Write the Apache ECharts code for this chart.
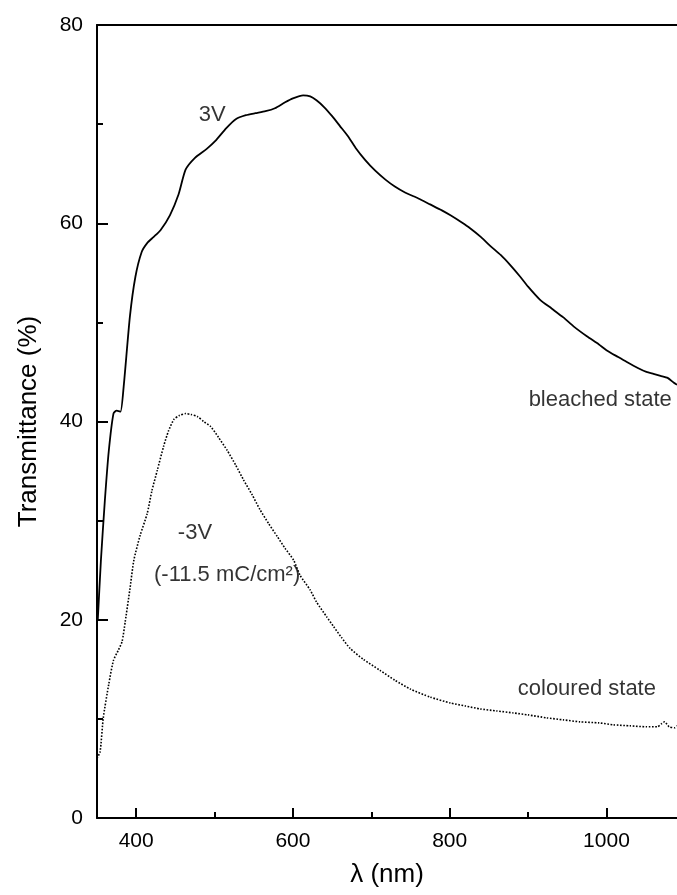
<!DOCTYPE html>
<html>
<head>
<meta charset="utf-8">
<script src="https://cdn.jsdelivr.net/npm/echarts@6/dist/echarts.min.js"></script>
<style>
  html, body { margin: 0; padding: 0; background: #fff; }
  #chart { width: 677px; height: 895px; }
</style>
</head>
<body>
<div id="chart"></div>
<script>
// bleached state (3V), solid line
const bleachedNm = [351, 355, 360, 365, 371, 375, 380, 384, 392, 399, 407, 414, 422, 431, 443, 454, 463, 475, 490, 501,
    515, 527, 540, 552, 565, 577, 590, 600, 613, 622, 630, 640, 650, 660, 670, 680, 692, 705, 718, 730,
    743, 760, 775, 790, 801, 815, 826, 840, 852, 865, 877, 890, 900, 915, 930, 945, 958, 975, 990, 1000,
    1015, 1026, 1040, 1051, 1060, 1069, 1078, 1086, 1090];
const bleachedT = [20, 26, 32, 37, 40.8, 41.1, 41.0, 43.5, 50.6, 54.6, 57.1, 58.0, 58.6, 59.3, 60.8, 62.9, 65.4, 66.6, 67.5, 68.3,
    69.6, 70.5, 70.9, 71.1, 71.3, 71.6, 72.2, 72.6, 72.9, 72.8, 72.4, 71.7, 70.8, 69.8, 68.8, 67.6, 66.4, 65.3, 64.4, 63.7,
    63.1, 62.5, 61.9, 61.3, 60.8, 60.1, 59.5, 58.6, 57.7, 56.8, 55.8, 54.6, 53.6, 52.3, 51.4, 50.5, 49.6, 48.6, 47.8, 47.2,
    46.5, 46.0, 45.4, 45.0, 44.8, 44.6, 44.4, 43.9, 43.7];

// coloured state (-3V), dotted line
const colouredNm = [350, 354, 358, 365, 371, 377, 382, 386, 392, 397, 405, 414, 420, 427, 435, 441, 448, 455, 463, 470,
    478, 486, 495, 505, 516, 527, 537, 548, 558, 569, 580, 590, 601, 609, 622, 630, 643, 652, 662, 673,
    690, 711, 730, 750, 775, 801, 820, 839, 860, 881, 900, 924, 945, 966, 990, 1009, 1030, 1051, 1065, 1070,
    1074, 1080, 1087, 1090];
const colouredT = [6.0, 6.7, 10.1, 13.5, 15.9, 16.9, 17.8, 19.8, 23.1, 26.0, 28.5, 30.7, 33.0, 35.1, 37.5, 39.0, 40.2, 40.6, 40.8, 40.7,
    40.5, 40.0, 39.5, 38.4, 37.1, 35.6, 34.1, 32.6, 31.1, 29.7, 28.4, 27.2, 26.0, 24.5, 23.0, 21.8, 20.3, 19.3, 18.2, 17.1,
    16.0, 14.9, 13.9, 13.0, 12.2, 11.6, 11.3, 11.0, 10.8, 10.6, 10.4, 10.1, 9.9, 9.7, 9.6, 9.4, 9.3, 9.2, 9.2, 9.5,
    9.7, 9.2, 9.1, 9.3];

// tick labels
const xMajorTicks = [400, 600, 800, 1000];
const xMinorTicks = [500, 700, 900];

// text notes placed in data units
const noteTexts = ['3V', 'bleached state', '-3V', '(-11.5 mC/cm²)', 'coloured state'];
const notePos = [[497, 70.9], [992, 42.2], [475, 28.8], [516, 24.5], [975, 13.0]];

const FONT = 'Liberation Sans, Arial, Helvetica, sans-serif';

function zip(xs, ys) {
    return xs.map((x, i) => [x, ys[i]]);
}

const chart = echarts.init(document.getElementById('chart'));

const option = {
    animation: false,
    backgroundColor: '#fff',
    textStyle: { fontFamily: FONT, color: '#000' },
    grid: { left: 97, right: 0, top: 25, bottom: 77, containLabel: false },
    xAxis: [
        {
            type: 'value', position: 'bottom', min: 350, max: 1090, interval: 50,
            name: 'λ (nm)', nameLocation: 'middle', nameGap: 44,
            nameTextStyle: { fontSize: 26, color: '#000', fontFamily: FONT },
            axisLine: { lineStyle: { color: '#000', width: 2 } },
            axisTick: { inside: true, length: 10, customValues: xMajorTicks, lineStyle: { color: '#000', width: 2 } },
            axisLabel: {
                customValues: xMajorTicks, fontSize: 21, color: '#000', margin: 13, fontFamily: FONT,
                formatter: v => String(v)
            },
            splitLine: { show: false }
        },
        {
            type: 'value', position: 'bottom', min: 350, max: 1090, interval: 50,
            axisLine: { show: false },
            axisTick: { inside: true, length: 6, customValues: xMinorTicks, lineStyle: { color: '#000', width: 2 } },
            axisLabel: { show: false },
            splitLine: { show: false }
        },
        {
            type: 'value', position: 'top', min: 350, max: 1090,
            axisLine: { lineStyle: { color: '#000', width: 2 } },
            axisTick: { show: false },
            axisLabel: { show: false },
            splitLine: { show: false }
        }
    ],
    yAxis: {
        type: 'value', min: 0, max: 80, interval: 20,
        name: 'Transmittance (%)', nameLocation: 'middle', nameGap: 55, nameRotate: 90,
        nameTextStyle: { fontSize: 26, color: '#000', fontFamily: FONT },
        axisLine: { show: true, lineStyle: { color: '#000', width: 2 } },
        axisTick: { show: true, inside: true, length: 11, lineStyle: { color: '#000', width: 2 } },
        minorTick: { show: true, splitNumber: 2, length: 6, lineStyle: { color: '#000', width: 2 } },
        axisLabel: { fontSize: 21, color: '#000', margin: 14, fontFamily: FONT },
        splitLine: { show: false }
    },
    series: [
        {
            name: 'bleached state', type: 'line', xAxisIndex: 0,
            data: zip(bleachedNm, bleachedT),
            showSymbol: false, smooth: 0.2,
            lineStyle: { color: '#000', width: 1.8 }
        },
        {
            name: 'coloured state', type: 'line', xAxisIndex: 0,
            data: zip(colouredNm, colouredT),
            showSymbol: false, smooth: 0.2,
            lineStyle: { color: '#000', width: 1.6, type: 'dotted' }
        },
        {
            name: 'notes', type: 'scatter', xAxisIndex: 0,
            symbolSize: 0, silent: true,
            data: notePos.map((p, i) => ({ value: p, name: noteTexts[i] })),
            label: {
                show: true, position: 'inside', formatter: '{b}',
                fontSize: 22, color: '#000', fontFamily: FONT
            }
        }
    ]
};

chart.setOption(option);
</script>
</body>
</html>
